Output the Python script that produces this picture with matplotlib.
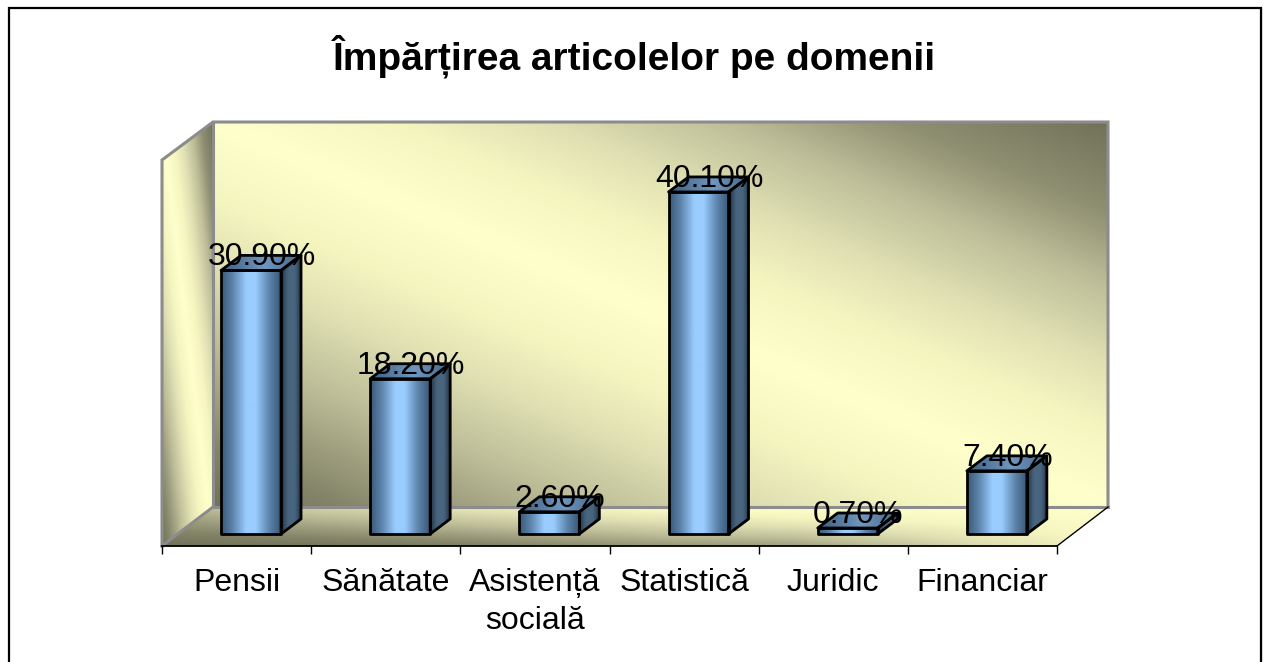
import numpy as np
import matplotlib
matplotlib.use('Agg')
import matplotlib.pyplot as plt
from matplotlib.colors import LinearSegmentedColormap
from matplotlib.patches import Polygon

plt.rcParams['font.family'] = ['Liberation Sans', 'DejaVu Sans']

categories = ['Pensii', 'Sănătate', 'Asistență\nsocială', 'Statistică', 'Juridic', 'Financiar']
values = [30.9, 18.2, 2.6, 40.1, 0.7, 7.4]
title = 'Împărțirea articolelor pe domenii'

W, H = 1263, 662
# wall colours by distance from the light band, 0.5 is the band itself
wall_stops = [(0.0, '#72725a'), (0.075, '#85856a'), (0.21, '#bdbd98'), (0.31, '#dfdfb3'), (0.40, '#f5f5c0'),
              (0.5, '#ffffcc'), (0.60, '#f5f5c0'), (0.69, '#dfdfb3'), (0.79, '#bdbd98'), (0.885, '#8f8f72'), (1.0, '#72725a')]
wall_cmap = LinearSegmentedColormap.from_list('wall', wall_stops)
bar_cmap = LinearSegmentedColormap.from_list('bar', [(0, '#3a5877'), (0.2, '#5f86ae'), (0.42, '#99ccff'), (0.58, '#99ccff'), (0.8, '#5f86ae'), (1, '#3a5877')])
side_cmap = LinearSegmentedColormap.from_list('side', [(0, '#22323f'), (0.35, '#48657f'), (0.7, '#48657f'), (1, '#26384a')])
top_cmap = LinearSegmentedColormap.from_list('top', [(0, '#3f5f80'), (0.55, '#6f97c0'), (1, '#47678a')])

fig = plt.figure(figsize=(W / 100, H / 100), dpi=100, facecolor='white')

# background layer in pixel coordinates: frame, walls and floor
bg = fig.add_axes([0, 0, 1, 1])
bg.set_xlim(0, W)
bg.set_ylim(H, 0)
bg.axis('off')
bg.plot([8.5, 8.5, 1261, 1261], [H, 8, 8, H], color='black', lw=1.6, solid_joinstyle='miter')
bg.plot([1262.5, 1262.5], [8, H], color='#999999', lw=1)


def shaded(ax, poly, extent, img, cmap):
    im = ax.imshow(img, extent=extent, cmap=cmap, vmin=0, vmax=1, aspect='auto', origin='upper', interpolation='bilinear', zorder=1)
    patch = Polygon(poly, closed=True, transform=ax.transData, fill=False, edgecolor='none')
    ax.add_patch(patch)
    im.set_clip_path(patch)


# back wall and side wall share the same diagonal shading
u, v = np.meshgrid(np.linspace(0, 1, 300), np.linspace(0, 1, 300))
diag_img = 0.5 + (u - v) / 2
shaded(bg, [(213, 122), (1108, 122), (1108, 507), (213, 507)], (213, 1108, 507, 122), diag_img, wall_cmap)
shaded(bg, [(162, 160), (213, 122), (213, 507), (162, 546)], (162, 213, 546, 122), diag_img, wall_cmap)

# floor, dark to the front left and light to the back right
fu, fv = np.meshgrid(np.linspace(0, 1, 300), np.linspace(0, 1, 100))
s_top = np.clip(0.9 * (0.67 - fu), 0, None)
s_bot = np.interp(fu, [0, 0.25, 0.52, 0.67, 0.89, 1], [1.0, 0.93, 0.76, 0.72, 0.37, 0.2])
floor_img = 0.5 - (s_top + fv * (s_bot - s_top)) / 2
shaded(bg, [(162, 546), (213, 507), (1108, 507), (1057, 546)], (162, 1108, 546, 507), floor_img, wall_cmap)

grey = '#8c8c8c'
bg.plot([162, 162, 213, 1108, 1108], [546, 160, 122, 122, 507], color=grey, lw=2.2, solid_joinstyle='miter', zorder=3)
bg.plot([213, 213, 1108], [122, 507, 507], color=grey, lw=2.2, zorder=3)
bg.plot([162, 213], [546, 507], color=grey, lw=2.2, zorder=3)
bg.plot([1057, 1108], [546, 507], color='black', lw=1, zorder=3)
bg.set_xlim(0, W)
bg.set_ylim(H, 0)

# chart layer: x is the category slot, y is percent
ax = fig.add_axes([162 / W, (H - 546) / H, 895 / W, (546 - 122) / H])
ax.patch.set_alpha(0)
for s in ['top', 'left', 'right']:
    ax.spines[s].set_visible(False)
ax.spines['bottom'].set_linewidth(1.3)
ax.set_xlim(-0.5, 5.5)
ax.set_ylim(-1.41, 48.3)
ax.set_yticks([])
ax.set_xticks(np.arange(-0.5, 6, 1))
ax.set_xticklabels([])
ax.tick_params(axis='x', which='major', length=6, width=1, direction='out')
ax.set_xticks(range(len(categories)), minor=True)
ax.set_xticklabels(categories, minor=True, fontsize=23, linespacing=1.33)
ax.tick_params(axis='x', which='minor', length=0, pad=16)

shift, width = 0.097, 0.402
dx, dy = 0.134, 1.76
edge = dict(edgecolor='black', lw=2.0, joinstyle='round', fill=False, zorder=5)
grad = np.linspace(0, 1, 100).reshape(1, -1)

for i, val in enumerate(values):
    x0 = i + shift - width / 2
    x1 = x0 + width
    face = [(x0, 0), (x1, 0), (x1, val), (x0, val)]
    side = [(x1, 0), (x1 + dx, dy), (x1 + dx, val + dy), (x1, val)]
    top = [(x0, val), (x1, val), (x1 + dx, val + dy), (x0 + dx, val + dy)]
    shaded(ax, face, (x0, x1, 0, val), grad, bar_cmap)
    shaded(ax, side, (x1, x1 + dx, 0, val + dy), grad, side_cmap)
    shaded(ax, top, (x0, x1 + dx, val, val + dy), grad, top_cmap)
    for poly in (face, side, top):
        ax.add_patch(Polygon(poly, closed=True, **edge))
    ax.annotate(f'{val:.2f}%', xy=(i + shift + dx / 2 + 0.005, val), xytext=(0, 3.6), textcoords='offset points',
                ha='center', va='baseline', fontsize=23, color='black', zorder=6)

ax.set_xlim(-0.5, 5.5)
ax.set_ylim(-1.41, 48.3)

fig.text(634 / W, 1 - 69 / H, title, fontsize=28, fontweight='bold', ha='center', va='baseline')

fig.savefig('out.png', dpi=100, facecolor='white')
